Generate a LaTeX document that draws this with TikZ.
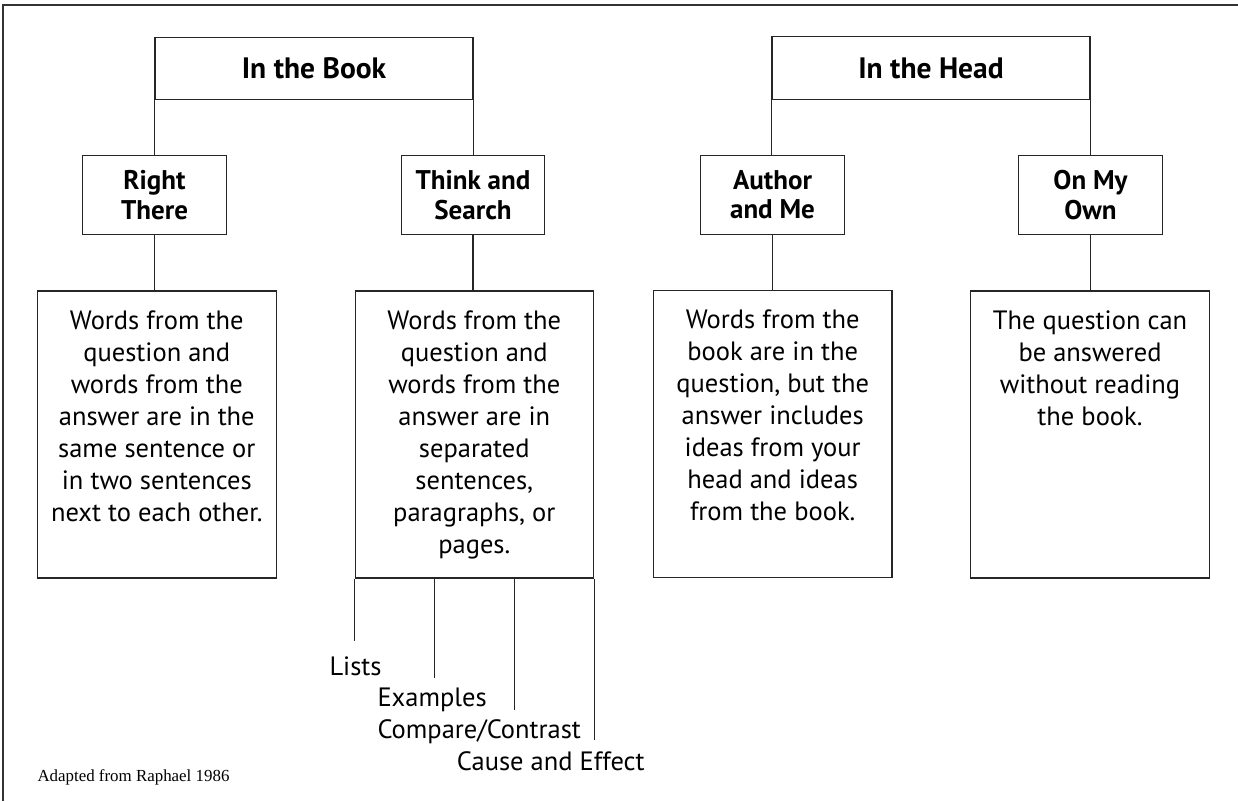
\documentclass[tikz,border=0pt]{standalone}
\usepackage{fontspec}
\setmainfont{PT Sans}
\newfontfamily\notefont{Liberation Serif}
\usetikzlibrary{positioning,calc}

\begin{document}
\begin{tikzpicture}[x=1pt,y=-1pt,
  box/.style={draw=black!85, line width=1.1pt, inner sep=0pt, align=center},
  topbox/.style={box, minimum width=318pt, minimum height=62.5pt,
    font=\fontsize{29.5}{34}\selectfont\bfseries},
  midbox/.style={box, minimum width=143.5pt, minimum height=79.5pt,
    font=\fontsize{27}{29.3}\selectfont\bfseries},
  detbox/.style={box, minimum width=238.5pt, minimum height=287pt},
  detail/.style={inner sep=0pt, align=center, font=\fontsize{26.5}{32}\selectfont},
  branch/.style={anchor=base west, inner sep=0pt, font=\fontsize{26.5}{32}\selectfont},
  link/.style={draw=black!85, line width=1.1pt}]
\useasboundingbox (0,0) rectangle (1238,801);

% frame (top and left edges)
\draw[line width=1.8pt, black!80] (3,801) -- (3,5) -- (1238,5);

% category boxes
\node[topbox] (book) at (314,68.5) {In the Book};
\node[topbox] (head) at (931,68) {In the Head};

% question types
\node[midbox] (rt) at (154.5,195) {Right\\There};
\node[midbox] (ts) at (473,195) {Think and\\Search};
\node[midbox] (am) at (772.5,195) {Author\\and Me};
\node[midbox] (om) at (1090.5,195) {On My\\Own};

% description boxes
\node[detbox] (rtd) at (156.8,434.5) {};
\node[detbox] (tsd) at (474.3,434.5) {};
\node[detbox] (amd) at (772.7,434) {};
\node[detbox] (omd) at (1090,434.5) {};

\node[detail, anchor=north] (rtt) at ([yshift=-20pt]rtd.north)
  {Words from the\\question and\\words from the\\answer are in the\\same sentence or\\in two sentences\\next to each other.};
\node[detail, anchor=north] (tst) at ([yshift=-20pt]tsd.north)
  {Words from the\\question and\\words from the\\answer are in\\separated\\sentences,\\paragraphs, or\\pages.};
\node[detail, anchor=north] (amt) at ([yshift=-20pt]amd.north)
  {Words from the\\book are in the\\question, but the\\answer includes\\ideas from your\\head and ideas\\from the book.};
\node[detail, anchor=north] (omt) at ([yshift=-20pt]omd.north)
  {The question can\\be answered\\without reading\\the book.};

% tree connectors
\draw[link] (book.south west) -- (book.south west |- rt.north);
\draw[link] (book.south east) -- (book.south east |- ts.north);
\draw[link] (head.south west) -- (head.south west |- am.north);
\draw[link] (head.south east) -- (head.south east |- om.north);
\draw[link] (rt.south) -- (rt.south |- rtd.north);
\draw[link] (ts.south) -- (ts.south |- tsd.north);
\draw[link] (am.south) -- (am.south |- amd.north);
\draw[link] (om.south) -- (om.south |- omd.north);

% text structures under Think and Search
\coordinate (s2) at ($(tsd.south west)!1/3!(tsd.south east)$);
\coordinate (s3) at ($(tsd.south west)!2/3!(tsd.south east)$);
\coordinate (e1) at ($(tsd.south west)+(0,62)$);
\coordinate (e2) at ($(s2)+(0,99)$);
\coordinate (e3) at ($(s3)+(0,131)$);
\coordinate (e4) at ($(tsd.south east)+(0,161)$);
\draw[link] (tsd.south west) -- (e1);
\draw[link] (s2) -- (e2);
\draw[link] (s3) -- (e3);
\draw[link] (tsd.south east) -- (e4);

\node[branch] (lists) at (329.3,675) {Lists};
\node[branch] (examples) at (377.3,706.7) {Examples};
\node[branch] (compare) at (377.3,738.3) {Compare/Contrast};
\node[branch] (cause) at (456.7,770.7) {Cause and Effect};

% source note
\node[anchor=base west, inner sep=0pt, font=\notefont\fontsize{16.9}{19}\selectfont]
  (note) at (37.3,781) {Adapted from Raphael 1986};
\end{tikzpicture}
\end{document}
